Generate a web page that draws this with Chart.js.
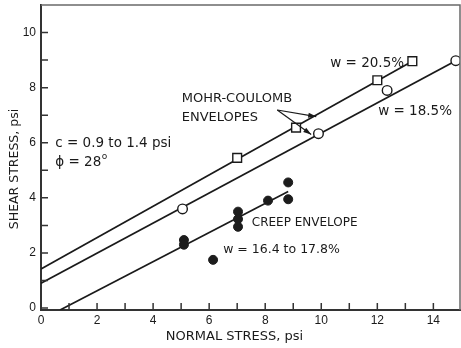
<!DOCTYPE html>
<html>
<head>
<meta charset="utf-8">
<script src="https://cdn.jsdelivr.net/npm/chart.js@4.4.0/dist/chart.umd.min.js"></script>
<style>
  html, body { margin: 0; padding: 0; background: #fff; }
  #wrap { width: 461px; height: 348px; }
</style>
</head>
<body>
<div id="wrap"><canvas id="c" width="461" height="348"></canvas></div>
<script>
// Direct shear tests, w = 20.5% (open squares)
const sq20X = [7.0, 9.1, 12.0, 13.25];
const sq20Y = [5.45, 6.55, 8.27, 8.96];
// Direct shear tests, w = 18.5% (open circles)
const ci18X = [5.05, 9.9, 12.35, 14.8];
const ci18Y = [3.6, 6.33, 7.9, 8.98];
// Creep tests, w = 16.4 to 17.8% (filled circles)
const creepX = [5.1, 5.1, 7.03, 7.03, 7.03, 8.1, 8.82, 8.82, 6.14];
const creepY = [2.47, 2.3, 3.5, 3.23, 2.95, 3.9, 4.56, 3.95, 1.75];
// Envelope end points
const env20X = [0, 13.25];
const env20Y = [1.42, 8.96];
const env18X = [0, 14.95];
const env18Y = [0.9, 9.06];
const envCreepX = [0.68, 8.82];
const envCreepY = [-0.07, 4.23];
// Axis ticks
const xTickValues = [0, 1, 2, 3, 4, 5, 6, 7, 8, 9, 10, 11, 12, 13, 14];
const yTickValues = [0, 1, 2, 3, 4, 5, 6, 7, 8, 9, 10];

const INK = '#1a1a1a';
const pts = (xs, ys) => xs.map((x, i) => ({ x: x, y: ys[i] }));

// Labels placed in data units: [text, x, y, font size]
const notes = [
  ['MOHR-COULOMB', 5.02, 7.62, 13],
  ['ENVELOPES', 5.02, 6.93, 13],
  ['w = 20.5%', 10.32, 8.89, 13.5],
  ['w = 18.5%', 12.03, 7.13, 13.5],
  ['c = 0.9 to 1.4 psi', 0.51, 5.99, 13.5],
  ['CREEP ENVELOPE', 7.52, 3.09, 12],
  ['w = 16.4 to 17.8%', 6.5, 2.11, 12.5]
];
// Arrows from the envelope label: [fromX, fromY, toX, toY]
const arrows = [
  [8.43, 7.19, 9.82, 6.95],
  [8.43, 7.19, 9.64, 6.30]
];

const decor = {
  id: 'decor',
  afterDatasetsDraw(chart) {
    const ctx = chart.ctx;
    const xs = chart.scales.x, ys = chart.scales.y;
    const a = chart.chartArea;
    ctx.save();
    // frame (top and right)
    ctx.strokeStyle = '#6a6a6a';
    ctx.lineWidth = 1.5;
    ctx.beginPath();
    ctx.moveTo(a.left, a.top);
    ctx.lineTo(a.right, a.top);
    ctx.lineTo(a.right, a.bottom);
    ctx.stroke();
    // inward tick marks
    ctx.strokeStyle = '#333';
    ctx.lineWidth = 1.5;
    ctx.beginPath();
    xTickValues.forEach(v => {
      const px = xs.getPixelForValue(v);
      ctx.moveTo(px, a.bottom);
      ctx.lineTo(px, a.bottom - 7);
    });
    yTickValues.forEach(v => {
      const py = ys.getPixelForValue(v);
      ctx.moveTo(a.left, py);
      ctx.lineTo(a.left + 7, py);
    });
    ctx.stroke();

    // text notes
    ctx.fillStyle = INK;
    ctx.textBaseline = 'middle';
    ctx.textAlign = 'left';
    notes.forEach(n => {
      ctx.font = n[3] + 'px "DejaVu Sans"';
      ctx.fillText(n[0], xs.getPixelForValue(n[1]), ys.getPixelForValue(n[2]));
    });
    // friction angle with raised degree mark
    ctx.font = '13.5px "DejaVu Sans"';
    const fx = xs.getPixelForValue(0.51), fy = ys.getPixelForValue(5.3);
    const phiText = '\u03D5 = 28';
    ctx.fillText(phiText, fx, fy);
    const w = ctx.measureText(phiText).width;
    ctx.font = '9px "DejaVu Sans"';
    ctx.fillText('o', fx + w + 0.5, fy - 5);

    // arrows
    ctx.strokeStyle = INK;
    ctx.lineWidth = 1.2;
    arrows.forEach(r => {
      const x0 = xs.getPixelForValue(r[0]), y0 = ys.getPixelForValue(r[1]);
      const x1 = xs.getPixelForValue(r[2]), y1 = ys.getPixelForValue(r[3]);
      ctx.beginPath();
      ctx.moveTo(x0, y0);
      ctx.lineTo(x1, y1);
      ctx.stroke();
      const ang = Math.atan2(y1 - y0, x1 - x0);
      const L = 8, H = 2.6;
      ctx.beginPath();
      ctx.moveTo(x1, y1);
      ctx.lineTo(x1 - L * Math.cos(ang) + H * Math.sin(ang), y1 - L * Math.sin(ang) - H * Math.cos(ang));
      ctx.lineTo(x1 - L * Math.cos(ang) - H * Math.sin(ang), y1 - L * Math.sin(ang) + H * Math.cos(ang));
      ctx.closePath();
      ctx.fill();
    });

    // axis titles
    ctx.font = '13px "DejaVu Sans"';
    ctx.textAlign = 'center';
    ctx.fillText('NORMAL STRESS, psi', 234.5, 337);
    ctx.translate(15, 169);
    ctx.rotate(-Math.PI / 2);
    ctx.font = '12.5px "DejaVu Sans"';
    ctx.fillText('SHEAR STRESS, psi', 0, 0);
    ctx.restore();
  }
};

const lineDs = (xs, ys) => ({
  type: 'line',
  data: pts(xs, ys),
  showLine: true,
  borderColor: INK,
  borderWidth: 1.7,
  pointRadius: 0,
  fill: false,
  order: 2
});

new Chart(document.getElementById('c'), {
  type: 'scatter',
  data: {
    datasets: [
      lineDs(env20X, env20Y),
      lineDs(env18X, env18Y),
      lineDs(envCreepX, envCreepY),
      {
        data: pts(sq20X, sq20Y),
        pointStyle: 'rect',
        pointRadius: 6.2,
        backgroundColor: '#fff',
        borderColor: INK,
        borderWidth: 1.4,
        order: 1
      },
      {
        data: pts(ci18X, ci18Y),
        pointStyle: 'circle',
        pointRadius: 4.8,
        backgroundColor: '#fff',
        borderColor: INK,
        borderWidth: 1.4,
        order: 1
      },
      {
        data: pts(creepX, creepY),
        pointStyle: 'circle',
        pointRadius: 4.5,
        backgroundColor: '#1c1c1c',
        borderColor: '#1c1c1c',
        borderWidth: 1,
        order: 1
      }
    ]
  },
  options: {
    responsive: false,
    animation: false,
    devicePixelRatio: 1,
    layout: { autoPadding: false, padding: { left: 0, top: 5, right: 1, bottom: 0 } },
    plugins: { legend: { display: false }, tooltip: { enabled: false } },
    scales: {
      x: {
        type: 'linear',
        min: 0,
        max: 14.95,
        afterFit(s) { s.height = 38; s.paddingLeft = 0; s.paddingRight = 0; },
        afterBuildTicks(s) { s.ticks = xTickValues.map(v => ({ value: v })); },
        grid: { display: false, drawTicks: false },
        border: { display: true, color: '#333', width: 2 },
        ticks: {
          autoSkip: false,
          maxRotation: 0,
          padding: 3,
          color: INK,
          font: { family: '"Liberation Sans"', size: 12 },
          callback: v => (v % 2 === 0 ? String(v) : '')
        }
      },
      y: {
        type: 'linear',
        min: -0.07,
        max: 11.0,
        afterFit(s) { s.width = 41; s.paddingTop = 0; s.paddingBottom = 0; },
        afterBuildTicks(s) { s.ticks = yTickValues.map(v => ({ value: v })); },
        grid: { display: false, drawTicks: false },
        border: { display: true, color: '#333', width: 2 },
        ticks: {
          autoSkip: false,
          padding: 5,
          color: INK,
          font: { family: '"Liberation Sans"', size: 12 },
          callback: v => (v % 2 === 0 ? String(v) : '')
        }
      }
    }
  },
  plugins: [decor]
});
</script>
</body>
</html>
